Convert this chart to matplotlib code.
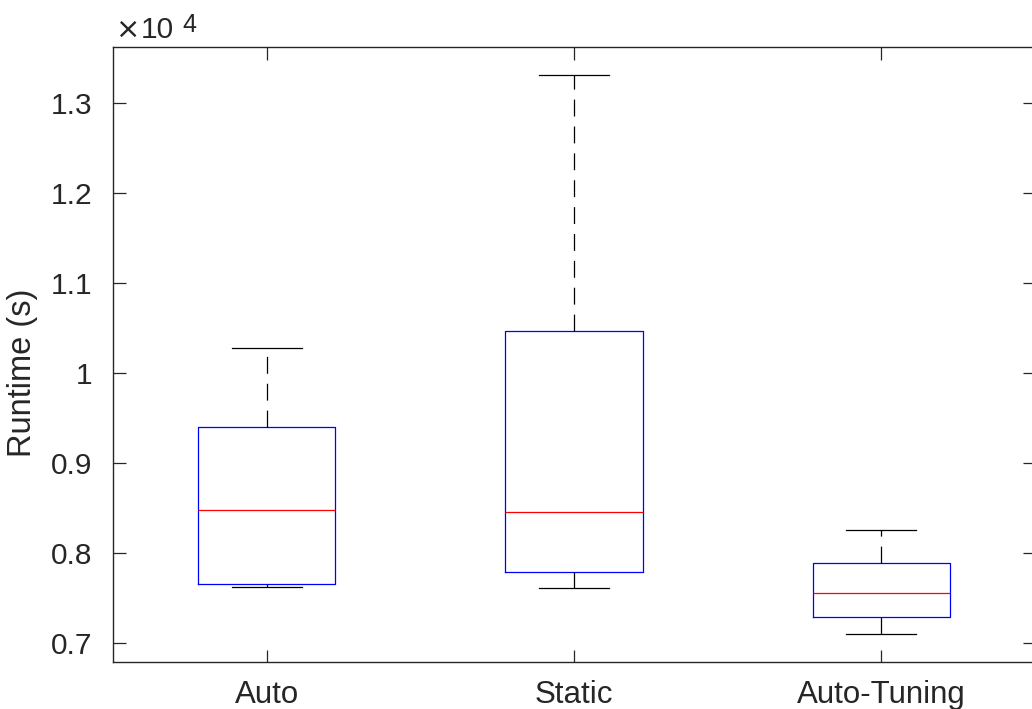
import matplotlib.pyplot as plt
import matplotlib as mpl

# style close to a MATLAB figure
mpl.rcParams['font.family'] = ['Liberation Sans', 'DejaVu Sans']
plt.rcParams['font.size'] = 21.5
plt.rcParams['axes.linewidth'] = 1.0

labels = ['Auto', 'Static', 'Auto-Tuning']
# runtime in seconds
whislo = [7622, 7611, 7100]
q1 = [7656, 7789, 7289]
med = [8478, 8456, 7556]
q3 = [9400, 10467, 7889]
whishi = [10278, 13311, 8256]

scale = 1e4
W, H = 1032, 709
fg = '#262626'

fig = plt.figure(figsize=(W / 100, H / 100), dpi=100)
ax = fig.add_axes([113 / W, 1 - 662 / H, (1035 - 113) / W, (662 - 47) / H])

stats = []
for i, lab in enumerate(labels):
    stats.append(dict(label=lab, whislo=whislo[i] / scale, q1=q1[i] / scale,
                      med=med[i] / scale, q3=q3[i] / scale,
                      whishi=whishi[i] / scale, fliers=[]))

ax.bxp(stats, positions=[1, 2, 3], widths=0.446, showfliers=False,
       boxprops=dict(color='#0000ff', linewidth=0.9),
       medianprops=dict(color='#ff0000', linewidth=0.9),
       whiskerprops=dict(color='black', linewidth=0.9, linestyle=(0, (13.5, 8))),
       capprops=dict(color='black', linewidth=0.9),
       capwidths=0.228)

ax.set_xlim(0.5, 3.5)
ax.set_ylim(0.6789, 1.3622)
ax.set_yticks([0.7, 0.8, 0.9, 1.0, 1.1, 1.2, 1.3])
ax.set_yticklabels(['0.7', '0.8', '0.9', '1', '1.1', '1.2', '1.3'])
ax.set_ylabel('Runtime (s)', color=fg, fontsize=23.5)
ax.yaxis.set_label_coords((38 - 113) / 922, (662 - 373) / 615)
ax.tick_params(which='major', direction='in', length=9, width=0.9, color=fg,
               labelcolor=fg, top=True, right=True)
ax.tick_params(axis='y', pad=15)
ax.tick_params(axis='x', pad=13, labelsize=22.5)
for sp in ax.spines.values():
    sp.set_color(fg)

# MATLAB style exponent label above the y axis
fig.text(116 / W, 1 - 38 / H, '\u00d7', ha='left', va='baseline', color=fg,
         fontsize=21, family='DejaVu Sans')
fig.text(141 / W, 1 - 38 / H, '10', ha='left', va='baseline', color=fg,
         fontsize=21.5)
fig.text(182 / W, 1 - 32 / H, '4', ha='left', va='baseline', color=fg,
         fontsize=18)

fig.savefig('out.png', dpi=100)
